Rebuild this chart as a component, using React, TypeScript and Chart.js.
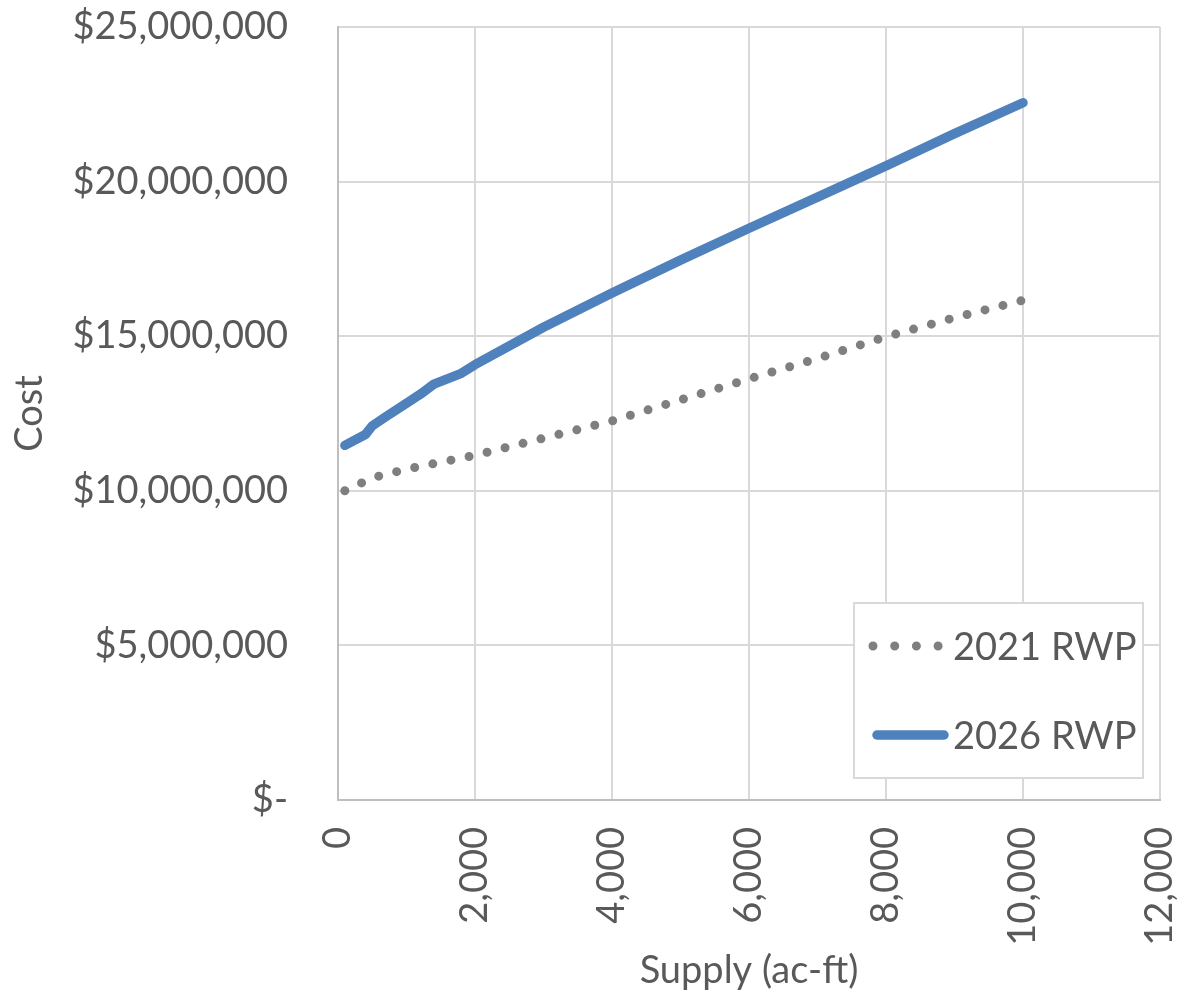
import React, { useEffect, useRef } from "react";
import { Chart, registerables } from "chart.js";

Chart.register(...registerables);

const series2021Label = "2021 RWP";
const series2026Label = "2026 RWP";

const supply2021 = [100, 500, 1000, 2000, 3000, 4000, 5000, 6000, 7000, 8000, 9000, 10000];
const cost2021 = [10000000, 10420000, 10700000, 11150000, 11700000, 12260000, 12940000, 13620000, 14280000, 14980000, 15600000, 16160000];

const supply2026 = [100, 400, 500, 700, 1000, 1200, 1400, 1800, 2000, 3000, 4000, 5000, 6000, 7000, 8000, 9000, 10000];
const cost2026 = [11470000, 11820000, 12100000, 12400000, 12830000, 13120000, 13450000, 13800000, 14080000, 15290000, 16400000, 17460000, 18490000, 19500000, 20510000, 21550000, 22550000];

const xMin = 0;
const xMax = 12000;
const xStep = 2000;
const yMin = 0;
const yMax = 25000000;
const yStep = 5000000;

const xTitle = "Supply (ac-ft)";
const yTitle = "Cost";

const GRAY = "#7f7f7f";
const BLUE = "#4f81bd";
const TEXT = "#595959";
const FONT = "Lato";
const FS = 38;

const legendPlugin = {
  id: "insideLegend",
  afterDraw(chart: any) {
    const ctx = chart.ctx;
    const x0 = 854, y0 = 603, x1 = 1143, y1 = 778;
    ctx.save();
    ctx.fillStyle = "#ffffff";
    ctx.fillRect(x0, y0, x1 - x0, y1 - y0);
    ctx.strokeStyle = "#d9d9d9";
    ctx.lineWidth = 2;
    ctx.strokeRect(x0, y0, x1 - x0, y1 - y0);

    const ds = chart.data.datasets;
    ctx.lineCap = "round";
    ctx.strokeStyle = ds[0].borderColor;
    ctx.lineWidth = ds[0].borderWidth;
    ctx.setLineDash([0, 21.7]);
    ctx.beginPath();
    ctx.moveTo(873, 646);
    ctx.lineTo(938.2, 646);
    ctx.stroke();
    ctx.setLineDash([]);
    ctx.strokeStyle = ds[1].borderColor;
    ctx.lineWidth = ds[1].borderWidth;
    ctx.beginPath();
    ctx.moveTo(877, 735);
    ctx.lineTo(944, 735);
    ctx.stroke();

    ctx.fillStyle = TEXT;
    ctx.font = `${FS}px ${FONT}`;
    ctx.textAlign = "left";
    ctx.textBaseline = "alphabetic";
    ctx.fillText(ds[0].label, 953, 660);
    ctx.fillText(ds[1].label, 953, 748.5);
    ctx.restore();
  },
};

function zeroPad(s: any) {
  s.paddingLeft = 0;
  s.paddingRight = 0;
  s.paddingTop = 0;
  s.paddingBottom = 0;
}

export default function App() {
  const ref = useRef<HTMLCanvasElement | null>(null);

  useEffect(() => {
    document.body.style.margin = "0";
    if (!ref.current) return;
    const chart = new Chart(ref.current, {
      type: "scatter",
      data: {
        datasets: [
          {
            label: series2021Label,
            data: supply2021.map((x, i) => ({ x, y: cost2021[i] })),
            showLine: true,
            borderColor: GRAY,
            backgroundColor: GRAY,
            borderWidth: 9,
            borderDash: [0, 18.5],
            borderCapStyle: "round",
            borderJoinStyle: "round",
            pointRadius: 0,
            tension: 0,
          },
          {
            label: series2026Label,
            data: supply2026.map((x, i) => ({ x, y: cost2026[i] })),
            showLine: true,
            borderColor: BLUE,
            backgroundColor: BLUE,
            borderWidth: 9.5,
            borderCapStyle: "round",
            borderJoinStyle: "round",
            pointRadius: 0,
            tension: 0,
          },
        ],
      },
      options: {
        responsive: false,
        animation: false,
        layout: { padding: { left: 0, right: 21, top: 27, bottom: 0 } },
        plugins: {
          legend: { display: false },
          tooltip: { enabled: false },
        },
        scales: {
          x: {
            type: "linear",
            min: xMin,
            max: xMax,
            afterFit: (s: any) => {
              s.height = 197;
              zeroPad(s);
            },
            ticks: {
              stepSize: xStep,
              minRotation: 90,
              maxRotation: 90,
              padding: 27,
              color: TEXT,
              font: { family: FONT, size: FS },
              callback: (v: any) => Number(v).toLocaleString("en-US"),
            },
            grid: { color: "#d9d9d9", lineWidth: 2, drawTicks: false },
            border: { display: true, color: "#bfbfbf", width: 2 },
            title: {
              display: true,
              text: xTitle,
              color: TEXT,
              font: { family: FONT, size: FS },
              padding: { top: 0, bottom: 3 },
            },
          },
          y: {
            type: "linear",
            min: yMin,
            max: yMax,
            afterFit: (s: any) => {
              s.width = 338;
              zeroPad(s);
            },
            ticks: {
              stepSize: yStep,
              padding: 50,
              color: TEXT,
              font: { family: FONT, size: FS },
              callback: (v: any) => (Number(v) === 0 ? "$-" : "$" + Number(v).toLocaleString("en-US")),
            },
            grid: { color: "#d9d9d9", lineWidth: 2, drawTicks: false },
            border: { display: true, color: "#bfbfbf", width: 2 },
            title: {
              display: true,
              text: yTitle,
              color: TEXT,
              font: { family: FONT, size: FS },
              padding: { top: 7, bottom: 0 },
            },
          },
        },
      },
      plugins: [legendPlugin],
    } as any);
    return () => chart.destroy();
  }, []);

  return (
    <div style={{ width: 1181, height: 997 }}>
      <canvas ref={ref} width={1181} height={997} style={{ display: "block" }} />
    </div>
  );
}
